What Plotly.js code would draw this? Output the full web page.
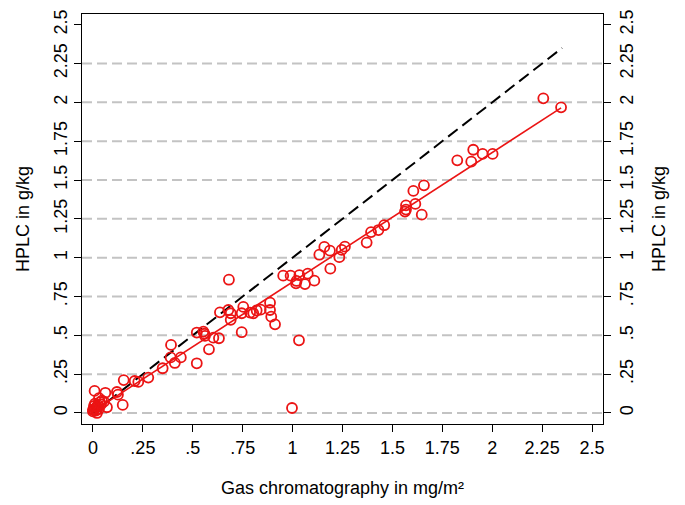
<!DOCTYPE html>
<html>
<head>
<meta charset="utf-8">
<script src="https://cdn.plot.ly/plotly-3.0.1.min.js"></script>
<style>html,body{margin:0;padding:0;background:#fff;}#chart{width:685px;height:505px;}</style>
</head>
<body>
<div id="chart"></div>
<script>
// Observed values: Gas chromatography (mg/m²) vs HPLC (g/kg)
const gcValues = [
  0.000,0.005,0.010,0.015,0.020,0.025,0.030,0.010,0.035,0.040,0.045,0.030,0.055,0.005,0.020,0.000,
  0.008,0.062,0.120,0.125,0.070,0.149,0.154,0.209,0.227,0.277,0.349,0.389,0.410,0.440,0.520,0.391,
  0.520,0.553,0.561,0.558,0.603,0.631,0.581,0.745,
  0.636,0.678,0.690,0.690,0.681,0.753,0.745,0.787,0.803,0.820,0.840,0.887,0.887,0.893,0.912,
  0.953,0.990,1.034,1.076,1.020,1.017,1.062,1.109,1.032,0.997,
  1.134,1.159,1.187,1.189,1.234,1.246,1.262,
  1.371,1.393,1.430,1.459,1.563,1.568,1.568,1.615,1.605,1.658,1.647,
  1.825,1.895,1.905,1.952,2.002,2.256,2.345
];
const hplcValues = [
  0.010,0.020,0.030,0.015,0.040,0.050,0.025,0.060,0.070,0.055,0.080,0.095,0.073,0.045,0.000,0.020,
  0.142,0.130,0.135,0.118,0.037,0.052,0.212,0.206,0.200,0.228,0.288,0.358,0.322,0.358,0.320,0.438,
  0.518,0.524,0.496,0.510,0.485,0.481,0.410,0.520,
  0.648,0.663,0.642,0.600,0.858,0.683,0.642,0.646,0.642,0.660,0.665,0.710,0.663,0.620,0.571,
  0.884,0.884,0.887,0.897,0.850,0.835,0.830,0.852,0.468,0.032,
  1.019,1.069,1.045,0.929,1.003,1.050,1.071,
  1.097,1.165,1.178,1.209,1.297,1.310,1.337,1.346,1.430,1.466,1.277,
  1.627,1.618,1.695,1.668,1.668,2.026,1.968
];
// Fitted regression line endpoints (red) and identity line (black dashed)
const fitX = [0, 2.345];
const fitY = [0.01, 1.965];
const identityX = [0, 2.35];
const identityY = [0, 2.35];
// Ticks
const tickVals = [0, 0.25, 0.5, 0.75, 1, 1.25, 1.5, 1.75, 2, 2.25, 2.5];
const tickText = ["0", ".25", ".5", ".75", "1", "1.25", "1.5", "1.75", "2", "2.25", "2.5"];
const gridVals = [0, 0.25, 0.5, 0.75, 1, 1.25, 1.5, 1.75, 2, 2.25];

const red = "rgb(235,20,20)";
const traces = [
  {x: identityX, y: identityY, mode: "lines", line: {color: "black", width: 2, dash: "12px,6px"}, hoverinfo: "skip", showlegend: false},
  {x: fitX, y: fitY, mode: "lines", line: {color: red, width: 1.6}, showlegend: false},
  {x: gcValues, y: hplcValues, mode: "markers", marker: {symbol: "circle-open", size: 10, color: red, line: {width: 1.8, color: red}}, showlegend: false},
  {x: [null], y: [null], yaxis: "y2", mode: "markers", showlegend: false, hoverinfo: "skip"}
];

const xr = [-0.055, 2.555];
const yr = [-0.071, 2.569];
const font = {family: "Liberation Sans, Arial, Helvetica, sans-serif", size: 18, color: "black"};

const shapes = gridVals.map(v => ({
  type: "line", xref: "paper", x0: 0, x1: 1, yref: "y", y0: v, y1: v,
  line: {color: "rgb(195,195,195)", width: 2, dash: "10px,5px"}, layer: "below"
}));

const yaxisCommon = {
  range: yr, tickvals: tickVals, ticktext: tickText, tickangle: -90,
  ticks: "outside", ticklen: 7, tickwidth: 1, tickcolor: "black",
  showgrid: false, zeroline: false, tickfont: font,
  title: {text: "HPLC in g/kg", font: font, standoff: 16}
};

const layout = {
  width: 685, height: 505,
  margin: {l: 82, r: 82, t: 14, b: 81},
  paper_bgcolor: "white", plot_bgcolor: "white",
  font: font,
  shapes: shapes,
  xaxis: {
    range: xr, tickvals: tickVals, ticktext: tickText,
    ticks: "outside", ticklen: 7, tickwidth: 1, tickcolor: "black",
    showline: true, linecolor: "black", linewidth: 1.3, mirror: true,
    showgrid: false, zeroline: false, tickfont: font,
    title: {text: "Gas chromatography in mg/m²", font: font, standoff: 24}
  },
  yaxis: Object.assign({}, yaxisCommon, {showline: true, linecolor: "black", linewidth: 1.3, mirror: true}),
  yaxis2: Object.assign({}, yaxisCommon, {overlaying: "y", side: "right", showline: false})
};

Plotly.newPlot("chart", traces, layout, {displayModeBar: false, staticPlot: true});
</script>
</body>
</html>
